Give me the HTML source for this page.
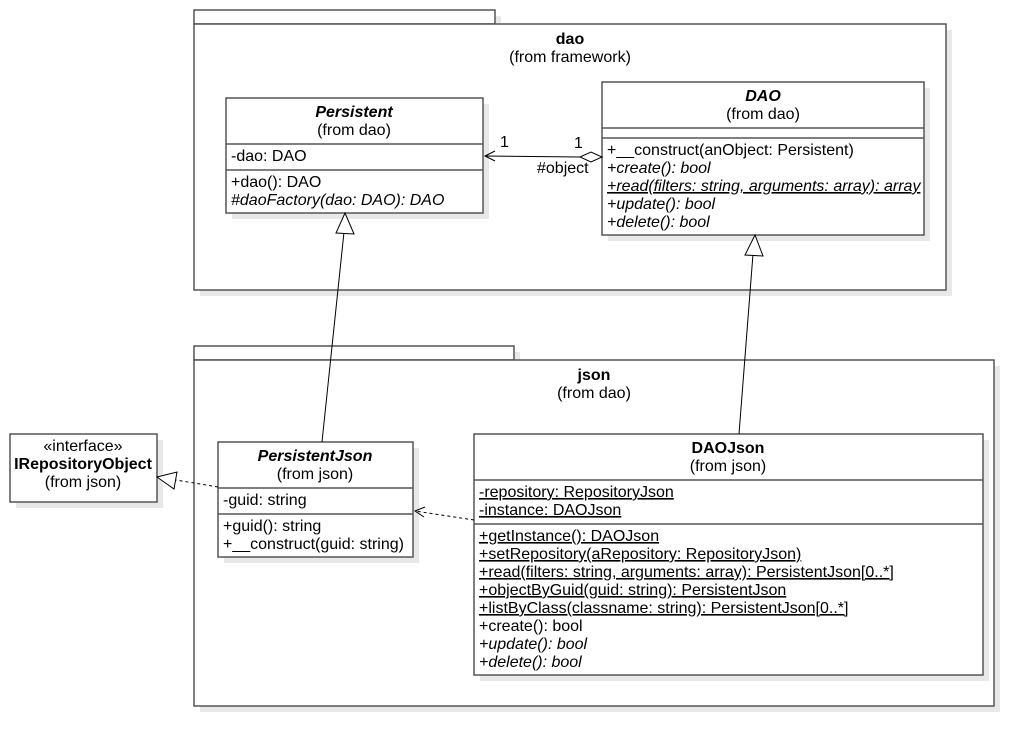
<!DOCTYPE html><html><head><style>body{margin:0;background:#fff}svg{display:block}text{font-family:"Liberation Sans",sans-serif;font-size:16px;fill:#000}.b{font-weight:bold}.i{font-style:italic}.u{text-decoration:underline}</style></head><body>
<svg width="1034" height="746" viewBox="0 0 1034 746">
<g fill="#e8e8e8" stroke="none">
<rect x="200" y="16" width="301" height="14"/><rect x="200" y="30" width="752" height="266"/>
<rect x="200" y="352" width="320" height="14"/><rect x="200" y="366" width="800" height="346"/>
<rect x="16" y="440" width="147" height="68"/>
</g>
<g fill="#fff" stroke="#555" stroke-width="1.5">
<rect x="194" y="10" width="301" height="14"/><rect x="194" y="24" width="752" height="266"/>
<rect x="194" y="346" width="320" height="14"/><rect x="194" y="360" width="800" height="346"/>
</g>
<g fill="#e8e8e8"><rect x="232" y="104" width="257" height="115"/><rect x="608" y="88" width="322" height="153"/><rect x="224" y="448" width="195" height="115"/><rect x="480" y="440" width="509" height="241"/></g>
<g fill="#fff" stroke="#555" stroke-width="1.5">
<rect x="10" y="434" width="147" height="68"/>
<rect x="226" y="98" width="257" height="115"/><line x1="226" y1="144" x2="483" y2="144"/><line x1="226" y1="170" x2="483" y2="170"/>
<rect x="602" y="82" width="322" height="153"/><line x1="602" y1="128" x2="924" y2="128"/><line x1="602" y1="138" x2="924" y2="138"/>
<rect x="218" y="442" width="195" height="115"/><line x1="218" y1="488" x2="413" y2="488"/><line x1="218" y1="514" x2="413" y2="514"/>
<rect x="474" y="434" width="509" height="241"/><line x1="474" y1="480" x2="983" y2="480"/><line x1="474" y1="524" x2="983" y2="524"/>
</g>
<text x="570" y="44" text-anchor="middle" class="b">dao</text><text x="570" y="62" text-anchor="middle">(from framework)</text>
<text x="594" y="380" text-anchor="middle" class="b">json</text><text x="594" y="398" text-anchor="middle">(from dao)</text>
<text x="83" y="451" text-anchor="middle">«interface»</text><text x="83" y="469" text-anchor="middle" class="b">IRepositoryObject</text><text x="83" y="487" text-anchor="middle">(from json)</text>
<text x="354" y="117" text-anchor="middle" class="b i">Persistent</text><text x="354" y="135" text-anchor="middle">(from dao)</text>
<text x="231" y="161">-dao: DAO</text><text x="231" y="187">+dao(): DAO</text><text x="231" y="205" class="i">#daoFactory(dao: DAO): DAO</text>
<text x="763" y="101" text-anchor="middle" class="b i">DAO</text><text x="763" y="119" text-anchor="middle">(from dao)</text>
<text x="607" y="155">+__construct(anObject: Persistent)</text><text x="607" y="173" class="i">+create(): bool</text><text x="607" y="191" class="i u">+read(filters: string, arguments: array): array</text><text x="607" y="209" class="i">+update(): bool</text><text x="607" y="227" class="i">+delete(): bool</text>
<text x="315" y="461" text-anchor="middle" class="b i">PersistentJson</text><text x="315" y="479" text-anchor="middle">(from json)</text>
<text x="223" y="505">-guid: string</text><text x="223" y="531">+guid(): string</text><text x="223" y="549">+__construct(guid: string)</text>
<text x="728" y="453" text-anchor="middle" class="b">DAOJson</text><text x="728" y="471" text-anchor="middle">(from json)</text>
<text x="479" y="497" class="u">-repository: RepositoryJson</text><text x="479" y="515" class="u">-instance: DAOJson</text>
<text x="479" y="541" class="u">+getInstance(): DAOJson</text><text x="479" y="559" class="u">+setRepository(aRepository: RepositoryJson)</text><text x="479" y="577" class="u">+read(filters: string, arguments: array): PersistentJson[0..*]</text><text x="479" y="595" class="u">+objectByGuid(guid: string): PersistentJson</text><text x="479" y="613" class="u">+listByClass(classname: string): PersistentJson[0..*]</text><text x="479" y="631">+create(): bool</text><text x="479" y="649" class="i">+update(): bool</text><text x="479" y="667" class="i">+delete(): bool</text>
<g stroke="#000" fill="none" stroke-width="1">
<line x1="485" y1="156" x2="580" y2="157"/><polyline points="495,151 485,156 495,161"/>
<polygon points="580,157 591,152 602,157 591,162" fill="#fff"/>
<line x1="322" y1="442" x2="344" y2="232"/><polygon points="345,213 336,233 354,234" fill="#fff"/>
<line x1="739" y1="434" x2="753" y2="254"/><polygon points="755,235 745,255 763,256" fill="#fff"/>
<line x1="218" y1="487" x2="176" y2="480" stroke-dasharray="3,3"/><polygon points="157,477 177,472 174,489" fill="#fff"/>
<line x1="474" y1="520" x2="415" y2="511" stroke-dasharray="3,3"/><polyline points="425,507 415,511 424,517"/>
</g>
<text x="500" y="147">1</text><text x="574" y="148">1</text><text x="537" y="173">#object</text>
</svg></body></html>
